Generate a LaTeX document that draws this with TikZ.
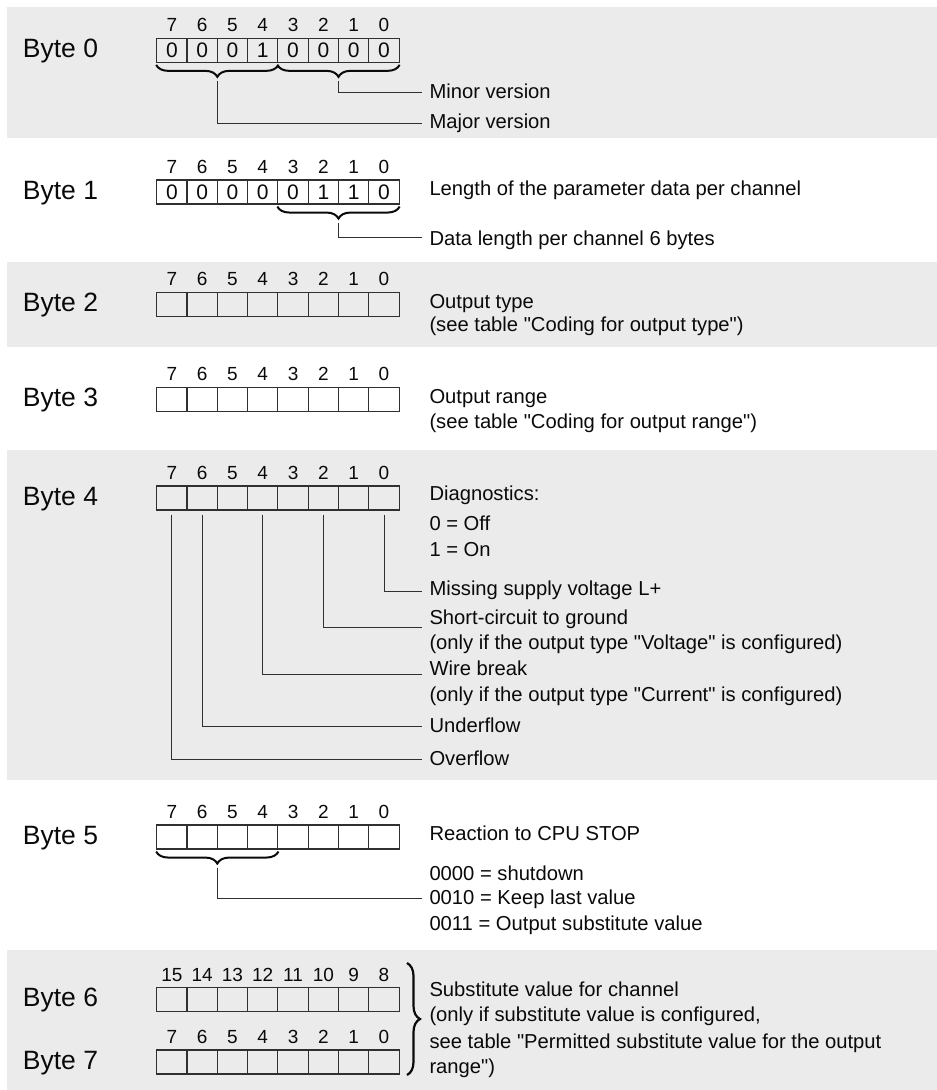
\documentclass[tikz,border=0pt]{standalone}
\usepackage{fontspec}
\setmainfont{Liberation Sans}[Ligatures=TeXOff]
\usetikzlibrary{decorations.pathreplacing,calc}
\definecolor{band}{HTML}{EBEBEB}
\definecolor{ink}{HTML}{0A0A0A}
\definecolor{lin}{HTML}{303030}
\newcommand\byterow[3]{%
  \foreach \i in {0,...,7}{%
    \pgfmathtruncatemacro\bit{7-\i+#3}%
    \node[cell] (#1c\bit) at ({156.7+30.3*(\i+0.5)}, {#2+12}) {};%
    \node[bitnum] (#1n\bit) at ({156.7+30.3*(\i+0.5)}, {#2-6.6}) {\bit};%
  }}
\begin{document}
\begin{tikzpicture}[x=1pt,y=-1pt,
  cell/.style={draw=lin, line width=1.1pt, minimum width=30.3pt, minimum height=24pt, inner sep=0pt},
  digit/.style={inner sep=0pt, font=\fontsize{21}{21}\selectfont, text=ink},
  bitnum/.style={anchor=base, inner sep=0pt, font=\fontsize{19}{19}\selectfont, text=ink},
  bytelbl/.style={anchor=base west, inner sep=0pt, font=\fontsize{26.5}{26}\selectfont, text=ink},
  desc/.style={anchor=base west, inner sep=0pt, font=\fontsize{20.2}{24}\selectfont, text=ink},
  conn/.style={draw=lin, line width=0.9pt},
  brc/.style={decorate, decoration={brace, amplitude=12pt, mirror, raise=2pt}, line width=2pt, draw=ink}]
\useasboundingbox (0,0) rectangle (937,1090);
% bands
\fill[band] (7,7) rectangle (937,138.3);
\fill[band] (7,261.7) rectangle (937,346.7);
\fill[band] (7,450) rectangle (937,780);
\fill[band] (7,950) rectangle (937,1090);

% ---------- Byte 0
\node[bytelbl] (l0) at (22.7,57) {Byte 0};
\byterow{b0}{38.3}{0}
\foreach \bit/\d in {7/0,6/0,5/0,4/1,3/0,2/0,1/0,0/0}{\node[digit] (b0d\bit) at (b0c\bit) {\d};}
\draw[brc] (b0c7.south west) -- (b0c4.south east);
\draw[brc] (b0c3.south west) -- (b0c0.south east);
\coordinate (b0ta) at ($(b0c7.south west)!0.5!(b0c4.south east)+(0,18)$);
\coordinate (b0tb) at ($(b0c3.south west)!0.5!(b0c0.south east)+(0,18)$);
\coordinate (e0a) at (422,92);
\coordinate (e0b) at (422,123);
\draw[conn] (b0tb) |- (e0a);
\draw[conn] (b0ta) |- (e0b);
\node[desc] (t0a) at (429.3,98.3) {Minor version};
\node[desc] (t0b) at (429.3,128.3) {Major version};

% ---------- Byte 1
\node[bytelbl] (l1) at (22.7,199) {Byte 1};
\byterow{b1}{180}{0}
\foreach \bit/\d in {7/0,6/0,5/0,4/0,3/0,2/1,1/1,0/0}{\node[digit] (b1d\bit) at (b1c\bit) {\d};}
\draw[brc] (b1c3.south west) -- (b1c0.south east);
\coordinate (b1t) at ($(b1c3.south west)!0.5!(b1c0.south east)+(0,18)$);
\coordinate (e1) at (422,237.3);
\draw[conn] (b1t) |- (e1);
\node[desc] (t1a) at (429.3,195) {Length of the parameter data per channel};
\node[desc] (t1b) at (429.3,245) {Data length per channel 6 bytes};

% ---------- Byte 2
\node[bytelbl] (l2) at (22.7,311.5) {Byte 2};
\byterow{b2}{292.3}{0}
\node[desc] (t2a) at (429.3,308.3) {Output type};
\node[desc] (t2b) at (429.3,331) {(see table "Coding for output type")};

% ---------- Byte 3
\node[bytelbl] (l3) at (22.7,406.5) {Byte 3};
\byterow{b3}{387.3}{0}
\node[desc] (t3a) at (429.3,403.3) {Output range};
\node[desc] (t3b) at (429.3,428) {(see table "Coding for output range")};

% ---------- Byte 4
\node[bytelbl] (l4) at (22.7,505) {Byte 4};
\byterow{b4}{486}{0}
\node[desc] (t4a) at (429.3,500.7) {Diagnostics:};
\node[desc] (t4b) at (429.3,530.7) {0 = Off};
\node[desc] (t4c) at (429.3,556.7) {1 = On};
\node[desc] (t4d) at (429.3,595) {Missing supply voltage L+};
\node[desc] (t4e) at (429.3,624.3) {Short-circuit to ground};
\node[desc] (t4f) at (429.3,649) {(only if the output type "Voltage" is configured)};
\node[desc] (t4g) at (429.3,675.7) {Wire break};
\node[desc] (t4h) at (429.3,701.7) {(only if the output type "Current" is configured)};
\node[desc] (t4i) at (429.3,732.7) {Underflow};
\node[desc] (t4j) at (429.3,765) {Overflow};
\coordinate (e4a) at (422,591);
\coordinate (e4b) at (422,627);
\coordinate (e4c) at (422,674.7);
\coordinate (e4d) at (422,726.7);
\coordinate (e4e) at (422,759);
\draw[conn] ([yshift=-4pt]b4c0.south) |- (e4a);
\draw[conn] ([yshift=-4pt]b4c2.south) |- (e4b);
\draw[conn] ([yshift=-4pt]b4c4.south) |- (e4c);
\draw[conn] ([yshift=-4pt]b4c6.south) |- (e4d);
\draw[conn] ([yshift=-4pt]b4c7.south) |- (e4e);

% ---------- Byte 5
\node[bytelbl] (l5) at (22.7,844) {Byte 5};
\byterow{b5}{825}{0}
\draw[brc] (b5c7.south west) -- (b5c4.south east);
\coordinate (b5t) at ($(b5c7.south west)!0.5!(b5c4.south east)+(0,18)$);
\coordinate (e5) at (422,898);
\draw[conn] (b5t) |- (e5);
\node[desc] (t5a) at (429.3,840) {Reaction to CPU STOP};
\node[desc] (t5b) at (429.3,880) {0000 = shutdown};
\node[desc] (t5c) at (429.3,904) {0010 = Keep last value};
\node[desc] (t5d) at (429.3,930) {0011 = Output substitute value};

% ---------- Byte 6 / 7
\node[bytelbl] (l6) at (22.7,1006) {Byte 6};
\node[bytelbl] (l7) at (22.7,1069) {Byte 7};
\byterow{b6}{987.7}{8}
\byterow{b7}{1050}{0}
\coordinate (bt) at (407,963);
\coordinate (bb) at (407,1075);
\draw[decorate, decoration={brace, amplitude=13pt}, line width=2.2pt, draw=ink] (bt) -- (bb);
\node[desc] (t6a) at (429.3,996.7) {Substitute value for channel};
\node[desc] (t6b) at (429.3,1021.7) {(only if substitute value is configured,};
\node[desc] (t6c) at (429.3,1048) {see table "Permitted substitute value for the output};
\node[desc] (t6d) at (429.3,1073) {range")};
\end{tikzpicture}
\end{document}
